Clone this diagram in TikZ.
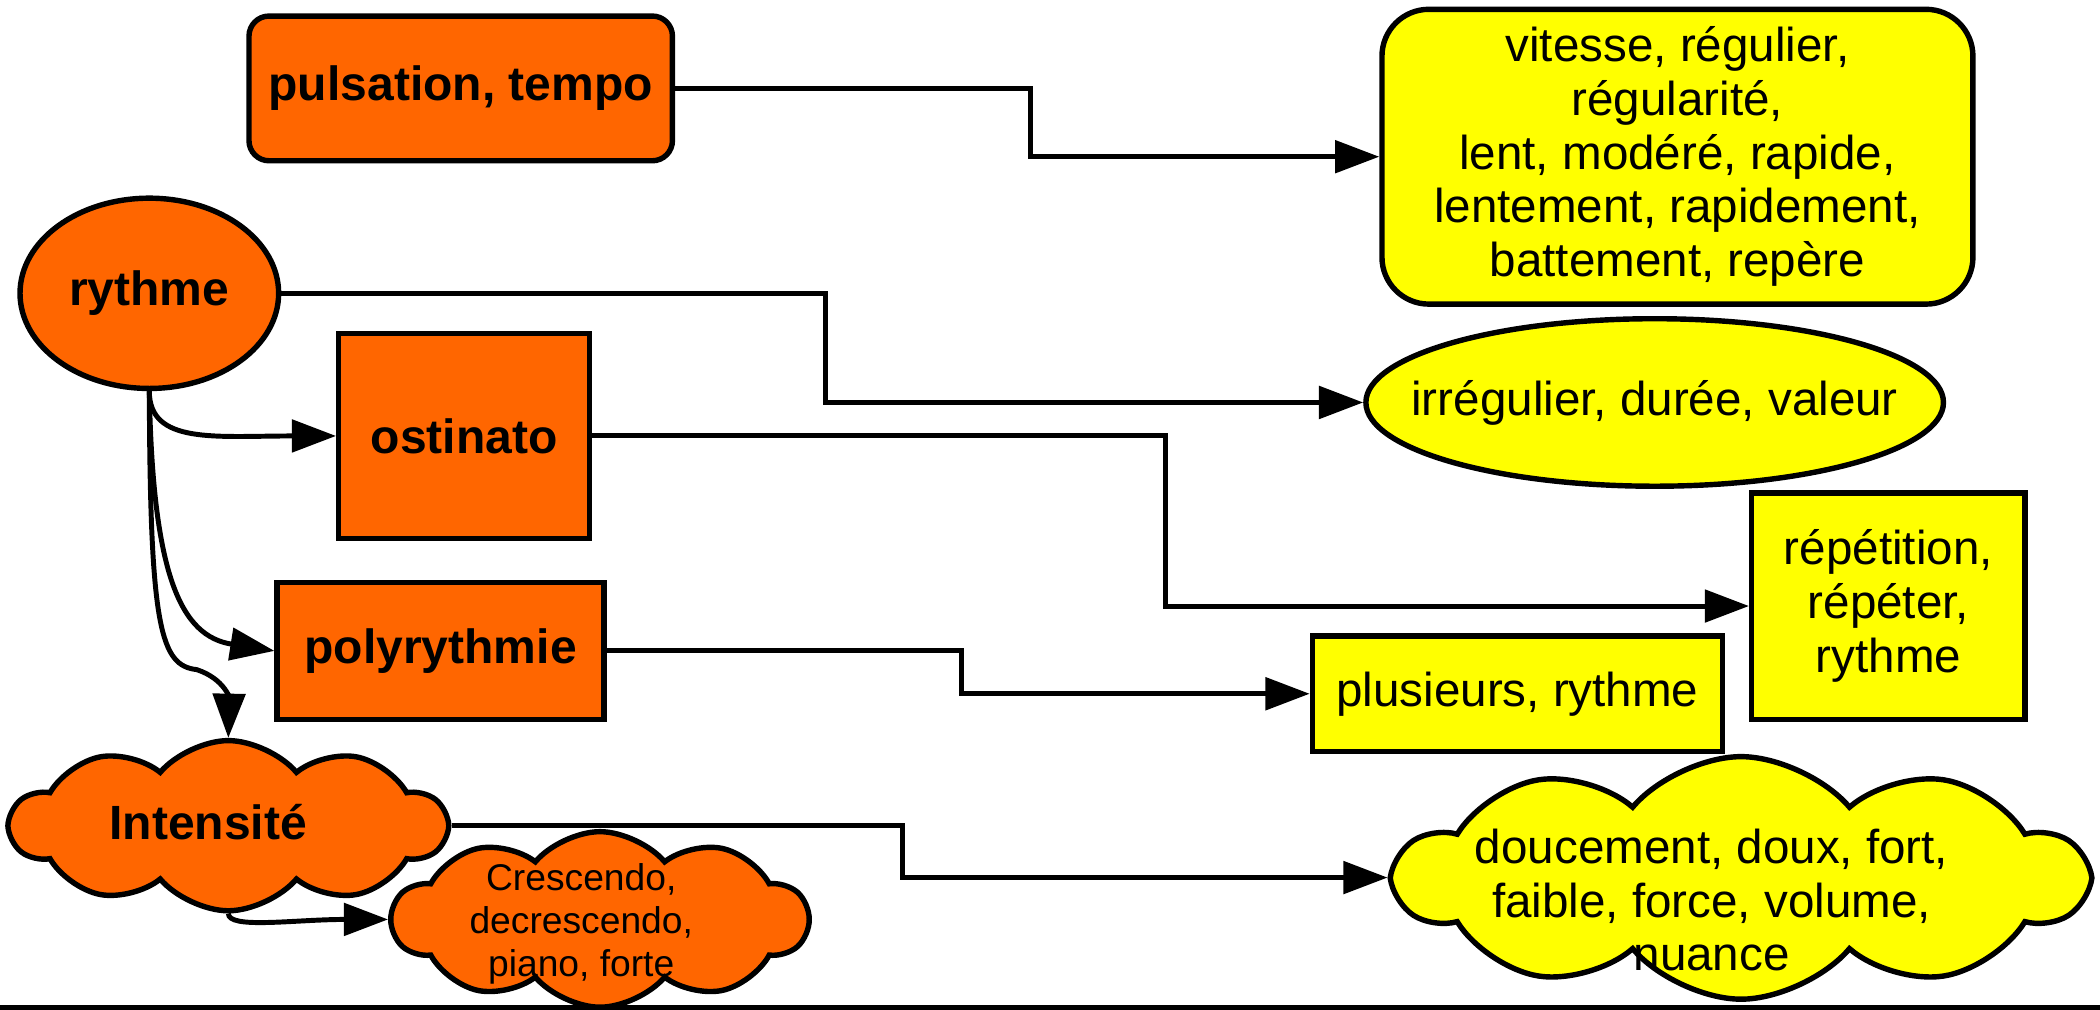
\documentclass[tikz,border=0pt]{standalone}
\usepackage{fontspec}
\setmainfont{Liberation Sans}
\usetikzlibrary{shapes.geometric,shapes.symbols,arrows.meta}
\usetikzlibrary{positioning}
\definecolor{orangeO}{HTML}{FF6600}
\definecolor{yellowY}{HTML}{FFFF00}

\begin{document}
\begin{tikzpicture}[x=0.01cm,y=-0.01cm]
 \tikzstyle{O} = [draw, fill=orangeO, line width=1.15pt, inner sep=0pt, font=\fontsize{10.2}{11.4}\selectfont\bfseries];
 \tikzstyle{Y} = [draw, fill=yellowY, line width=1.15pt, inner sep=0pt, align=center, font=\fontsize{10.1}{11.4}\selectfont];
 \tikzstyle{puff} = [cloud, cloud puffs=10, cloud puff arc=100, cloud ignores aspect];
 \tikzstyle{T} = [inner sep=0pt, align=center, font=\fontsize{10.1}{11.4}\selectfont];
 \useasboundingbox (0,0) rectangle (1568,754.1);

 \node (pulsation) [O, rounded corners=1.5mm, minimum width=3.16cm, minimum height=1.08cm] at (344,66) {pulsation, tempo};
 \node (rythme) [O, ellipse, minimum width=1.93cm, minimum height=1.42cm] at (111.5,219) {rythme};
 \node (ostinato) [O, minimum width=1.87cm, minimum height=1.53cm] at (346.5,325.5) {ostinato};
 \node (polyrythmie) [O, minimum width=2.44cm, minimum height=1.02cm] at (329,486) {polyrythmie};
 \node (intensite) [O, puff, minimum width=3.25cm, minimum height=1.27cm] at (170.5,616.5) {};
 \node (intensitetxt) [T, font=\fontsize{10.2}{11.4}\selectfont\bfseries] at (155.5,614) {Intensité};
 \node (crescendo) [O, puff, minimum width=3.1cm, minimum height=1.31cm] at (448,686.5) {};
 \node (crescendotxt) [T, font=\fontsize{7.9}{9.1}\selectfont] at (434,690) {Crescendo,\\decrescendo,\\piano, forte};

 \node (vitesse) [Y, rounded corners=3.5mm, minimum width=4.41cm, minimum height=2.2cm] at (1252.5,117) {vitesse, régulier,\\régularité,\\lent, modéré, rapide,\\lentement, rapidement,\\battement, repère};
 \node (irregulier) [Y, ellipse, inner xsep=-0.45cm, minimum width=4.31cm, minimum height=1.25cm] at (1235.5,300.5) {irrégulier, durée, valeur};
 \node (repetition) [Y, minimum width=2.04cm, minimum height=1.69cm] at (1410,452.5) {répétition,\\répéter,\\rythme};
 \node (plusieurs) [Y, minimum width=3.06cm, minimum height=0.86cm] at (1133,518) {plusieurs, rythme};
 \node (nuance) [Y, puff, minimum width=5.14cm, minimum height=1.81cm] at (1300,655.5) {};
 \node (nuancetxt) [T] at (1278,672) {doucement, doux, fort,\\faible, force, volume,\\nuance};

 \tikzstyle{C} = [-{Triangle[length=3.3mm,width=2.4mm]}, color=black, line width=1.05pt];

 \draw [C] (pulsation.east) -- ++(265,0) |- (vitesse.west);
 \draw [C] (rythme.east) -- ++(406,0) |- (irregulier.west);
 \draw [C] (ostinato.east) -- ++(428,0) |- (repetition.west);
 \draw [C] (polyrythmie.east) -- ++(265,0) |- (plusieurs.west);
 \draw [C] (intensite.east) -- ++(337,0) |- (nuance.west);

 \draw [C] (rythme.south) .. controls +(0,40) and +(-90,0) .. (ostinato.west);
 \draw [C] (rythme.south) .. controls (114,430) and (135,475) .. (polyrythmie.west);
 \draw [C] (rythme.south) .. controls (112,470) and (120,497) .. (147,500) .. controls (168,507) and (171,522) .. (intensite.north);
 \draw [C] (intensite.south) .. controls +(0,12) and +(-70,0) .. (crescendo.west);

 \draw [line width=1.1pt] (0,752) -- (1568,752);
\end{tikzpicture}
\end{document}
